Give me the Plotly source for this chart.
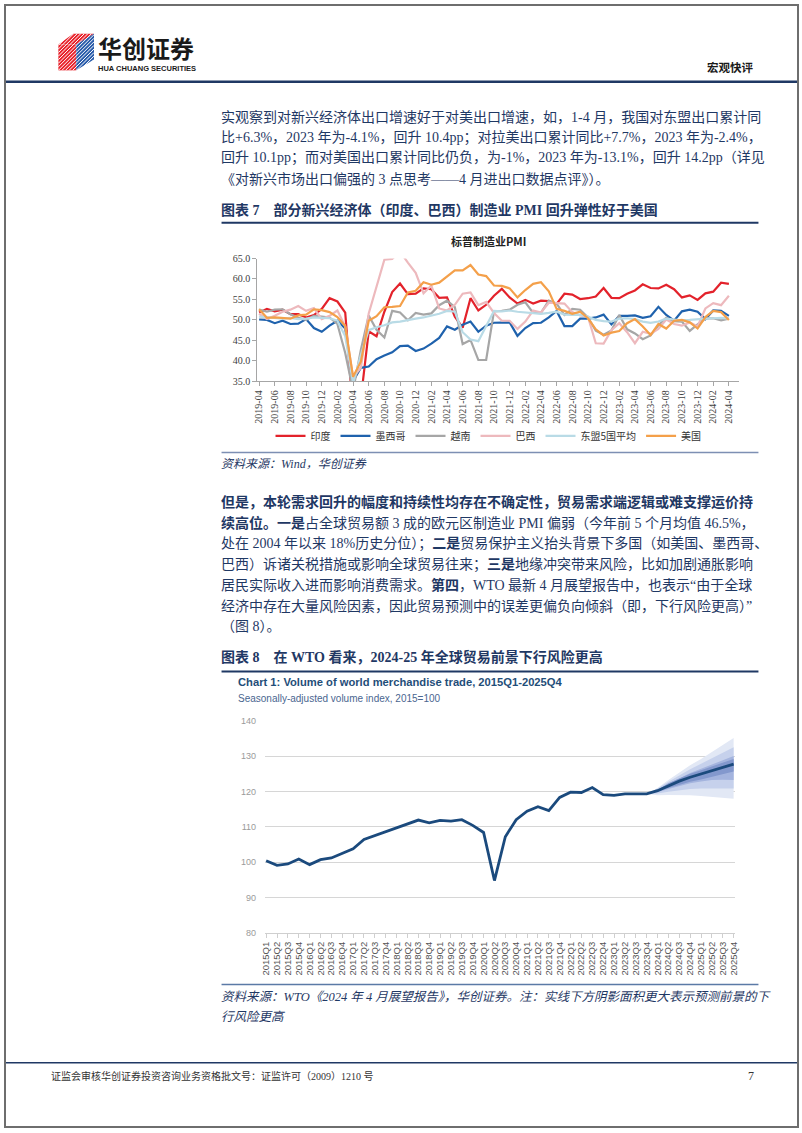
import plotly.graph_objects as go

W, H = 802, 1133
def fx(x): return x / W
def fy(y): return 1 - y / H

NAVY = "#1f3864"
BODY = "Liberation Serif, Noto Sans CJK SC, serif"
CJK = "Noto Sans CJK SC, sans-serif"

# ---------------- Chart 7 data: S&P manufacturing PMI ----------------
all_months = [f"{y}-{m:02d}" for y in range(2019, 2025) for m in range(1, 13)]
months = all_months[3:64]          # 2019-04 .. 2024-04

india = [51.8, 52.7, 52.1, 52.5, 51.4, 51.4, 50.6, 51.2, 52.7,
         55.3, 54.5, 51.8, 27.4, 30.8, 47.2, 46.0, 52.0, 56.8, 58.9, 56.3, 56.4,
         57.7, 57.5, 55.4, 55.5, 50.8, 48.1, 55.3, 52.3, 53.7, 55.9, 57.6, 55.5,
         54.0, 54.9, 54.0, 54.7, 54.6, 53.9, 56.4, 56.2, 55.1, 55.3, 55.7, 57.8,
         55.4, 55.3, 56.4, 57.2, 58.7, 57.8, 57.7, 58.6, 57.5, 55.5, 56.0, 54.9,
         56.5, 56.9, 59.1, 58.8]
mexico = [50.1, 50.0, 49.2, 49.8, 49.0, 49.1, 50.2, 48.0, 47.1,
          48.6, 49.8, 47.9, 35.0, 38.3, 38.6, 40.4, 41.3, 42.1, 43.6, 43.7, 42.4,
          43.0, 44.2, 45.6, 48.4, 47.6, 48.8, 49.6, 47.1, 48.6, 49.3, 49.4, 49.4,
          46.1, 48.0, 49.2, 49.3, 50.6, 52.2, 48.5, 48.5, 50.3, 50.3, 50.6, 51.3,
          48.9, 51.0, 51.0, 51.1, 50.5, 50.9, 53.2, 51.2, 49.8, 52.1, 52.5, 52.0,
          50.2, 52.3, 52.2, 51.0]
vietnam = [52.5, 52.0, 52.5, 52.6, 51.4, 50.5, 50.0, 51.0, 50.8,
           50.6, 49.0, 41.9, 32.7, 42.7, 51.1, 47.6, 45.7, 52.2, 51.8, 49.9, 51.7,
           51.3, 51.6, 53.6, 54.7, 53.1, 44.1, 45.1, 40.2, 40.2, 52.1, 52.2, 52.5,
           53.7, 54.3, 51.7, 51.7, 54.7, 54.0, 51.2, 52.7, 52.5, 50.6, 47.4, 46.4,
           47.4, 51.2, 47.7, 46.7, 45.3, 46.2, 48.7, 50.5, 49.7, 49.6, 47.3, 48.9,
           50.3, 50.4, 49.9, 50.3]
brazil = [51.5, 50.2, 51.0, 52.0, 52.5, 53.4, 52.2, 52.9, 50.2,
          51.0, 52.3, 48.4, 36.0, 38.3, 51.6, 58.2, 64.7, 64.9, 66.7, 64.0, 61.5,
          56.5, 58.4, 52.8, 52.3, 53.7, 56.4, 56.7, 53.6, 54.4, 51.7, 49.8, 49.8,
          47.8, 49.6, 52.3, 51.8, 54.2, 54.1, 54.0, 51.9, 51.1, 50.8, 44.3, 44.2,
          47.5, 49.2, 47.0, 44.3, 47.1, 46.6, 47.8, 50.1, 49.0, 48.6, 49.4, 48.4,
          52.8, 54.1, 53.6, 55.9]
asean5 = [50.8, 50.6, 50.5, 50.3, 50.5, 50.2, 50.3, 50.6, 50.5,
          50.4, 49.8, 46.0, 34.5, 41.5, 47.5, 48.2, 48.7, 49.4, 49.6, 50.0, 50.3,
          50.6, 51.0, 51.5, 52.2, 52.0, 47.0, 45.2, 44.8, 48.5, 52.2, 52.1, 52.3,
          52.0, 51.8, 51.6, 51.5, 51.7, 52.0, 51.3, 51.2, 51.3, 50.8, 50.0, 49.7,
          49.6, 50.3, 50.4, 50.2, 49.6, 49.3, 49.6, 50.3, 50.1, 49.9, 50.0, 50.2,
          50.3, 50.4, 50.5, 50.3]
usa = [52.6, 50.5, 50.6, 50.4, 50.3, 51.1, 51.3, 52.6, 52.4,
       51.9, 50.7, 48.5, 36.1, 39.8, 49.8, 50.9, 53.1, 53.2, 53.4, 56.7, 57.1,
       59.2, 58.6, 59.1, 60.5, 62.1, 62.1, 63.4, 61.1, 60.7, 58.4, 58.3, 57.7,
       55.5, 57.3, 58.8, 59.2, 57.0, 52.7, 52.2, 51.5, 52.0, 50.4, 47.7, 46.2,
       46.9, 47.3, 49.2, 50.2, 48.4, 46.3, 49.0, 47.9, 49.8, 50.0, 49.4, 47.9,
       50.7, 52.2, 51.9, 50.0]

pmi_names = ["印度", "墨西哥", "越南", "巴西", "东盟5国平均", "美国"]
pmi_series = [india, mexico, vietnam, brazil, asean5, usa]
pmi_colors = ["#e3222b", "#1f62ad", "#a6a6a6", "#edb9bd", "#b9dbe6", "#f4a04a"]
pmi_yticks = [35, 40, 45, 50, 55, 60, 65]

# ---------------- Chart 8 data: WTO world merchandise trade ----------------
quarters = [f"{y}Q{q}" for y in range(2015, 2026) for q in range(1, 5)]
trade = [100.4, 99.1, 99.5, 100.9, 99.3, 100.7, 101.2, 102.4,
         103.8, 106.4, 107.5, 108.8, 109.8, 110.9, 111.9, 111.1,
         111.8, 111.6, 112.0, 110.4, 108.4, 94.8, 107.2, 112.0,
         114.4, 115.7, 114.6, 118.3, 119.8, 119.7, 121.1, 119.1,
         118.9, 119.3, 119.2, 119.3,
         120.2, 121.6, 122.9, 124.0, 124.9, 125.8, 126.7, 127.7]
fan_quarters = quarters[35:]       # 2023Q4 .. 2025Q4
fan_outer_lo = [119.3, 118.9, 119.0, 119.0, 118.9, 118.7, 118.4, 118.2, 117.9]
fan_outer_hi = [119.3, 121.0, 123.2, 125.4, 127.4, 129.2, 131.2, 133.2, 135.1]
fan_mid_lo = [119.3, 119.4, 119.9, 120.4, 120.7, 120.8, 120.8, 120.8, 120.8]
fan_mid_hi = [119.3, 120.8, 122.7, 124.6, 126.3, 127.8, 129.4, 130.9, 132.5]
fan_in_lo = [119.3, 119.8, 120.7, 121.6, 122.3, 122.8, 123.2, 123.3, 123.2]
fan_in_hi = [119.3, 120.5, 122.2, 123.8, 125.2, 126.4, 127.6, 128.8, 130.0]
fan_core_lo = [119.3, 120.0, 121.0, 121.9, 122.7, 123.4, 124.2, 124.9, 125.6]
fan_core_hi = [119.3, 120.4, 122.3, 123.7, 125.0, 126.0, 127.1, 128.1, 129.2]
trade_yticks = [80, 90, 100, 110, 120, 130, 140]

fig = go.Figure()

# PMI lines
for name, vals, col in zip(pmi_names, pmi_series, pmi_colors):
    fig.add_trace(go.Scatter(x=months, y=vals, name=name, mode="lines",
                             line=dict(color=col, width=2.2),
                             xaxis="x", yaxis="y", showlegend=True))

# Fan chart
fan_levels = [(fan_outer_lo, fan_outer_hi, "#e2e8f5"),
              (fan_mid_lo, fan_mid_hi, "#c6d1ec"),
              (fan_in_lo, fan_in_hi, "#a4b4de"),
              (fan_core_lo, fan_core_hi, "#8398cd")]
for lo, hi, col in fan_levels:
    fig.add_trace(go.Scatter(x=fan_quarters, y=lo, mode="lines", line=dict(width=0, color=col),
                             xaxis="x2", yaxis="y2", showlegend=False, hoverinfo="skip"))
    fig.add_trace(go.Scatter(x=fan_quarters, y=hi, mode="lines", line=dict(width=0, color=col),
                             fill="tonexty", fillcolor=col,
                             xaxis="x2", yaxis="y2", showlegend=False, hoverinfo="skip"))
fig.add_trace(go.Scatter(x=quarters, y=trade, mode="lines",
                         line=dict(color="#1b4a7d", width=2.8),
                         xaxis="x2", yaxis="y2", showlegend=False))

# ---------------- text ----------------
ann = []
def text(x, y, s, size=14, color=NAVY, family=BODY, xanchor="left", yanchor="middle"):
    ann.append(dict(x=fx(x), y=fy(y), xref="paper", yref="paper", text=s,
                    showarrow=False, xanchor=xanchor, yanchor=yanchor, align="left",
                    font=dict(size=size, color=color, family=family)))

L = 216  # left anchor compensating annotation padding

# header
text(92, 42.5, "<b>华创证券</b>", size=24, color="#1a1a1a", family=CJK)
text(92, 64.5, "<b>HUA CHUANG SECURITIES</b>", size=7.5, color="#1a1a1a",
     family="Liberation Sans, sans-serif")
text(760, 63, "<b>宏观快评</b>", size=11.5, color="#1a1a1a", family=CJK, xanchor="right")

para1 = [
    "实观察到对新兴经济体出口增速好于对美出口增速，如，1-4 月，我国对东盟出口累计同",
    "比+6.3%，2023 年为-4.1%，回升 10.4pp；对拉美出口累计同比+7.7%，2023 年为-2.4%，",
    "回升 10.1pp；而对美国出口累计同比仍负，为-1%，2023 年为-13.1%，回升 14.2pp（详见",
    "《对新兴市场出口偏强的 3 点思考——4 月进出口数据点评》）。",
]
for i, line in enumerate(para1):
    text(L, 113.5 + 20.6 * i, line)

text(L, 207, "<b>图表 7　部分新兴经济体（印度、巴西）制造业 PMI 回升弹性好于美国</b>")
text(489, 238, "<b>标普制造业PMI</b>", size=11, color="#222", family=CJK, xanchor="center")
text(L, 464, "<i>资料来源：Wind，华创证券</i>", size=12)

para2 = [
    "<b>但是，本轮需求回升的幅度和持续性均存在不确定性，贸易需求端逻辑或难支撑运价持</b>",
    "<b>续高位。一是</b>占全球贸易额 3 成的欧元区制造业 PMI 偏弱（今年前 5 个月均值 46.5%，",
    "处在 2004 年以来 18%历史分位）；<b>二是</b>贸易保护主义抬头背景下多国（如美国、墨西哥、",
    "巴西）诉诸关税措施或影响全球贸易往来；<b>三是</b>地缘冲突带来风险，比如加剧通胀影响",
    "居民实际收入进而影响消费需求。<b>第四</b>，WTO 最新 4 月展望报告中，也表示“由于全球",
    "经济中存在大量风险因素，因此贸易预测中的误差更偏负向倾斜（即，下行风险更高）”",
    "（图 8）。",
]
for i, line in enumerate(para2):
    text(L, 502 + 21.0 * i, line)

text(L, 658, "<b>图表 8　在 WTO 看来，2024-25 年全球贸易前景下行风险更高</b>")
text(234, 684, "<b>Chart 1: Volume of world merchandise trade, 2015Q1-2025Q4</b>", size=11.2,
     color="#1f4e79", family="Liberation Sans, sans-serif")
text(234, 700, "Seasonally-adjusted volume index, 2015=100", size=10, color="#4a6690",
     family="Liberation Sans, sans-serif")
text(L, 1002, "<i>资料来源：WTO《2024 年 4 月展望报告》，华创证券。注：实线下方阴影面积更大表示预测前景的下</i>", size=12.5)
text(L, 1022, "<i>行风险更高</i>", size=12.5)

text(44, 1081, "证监会审核华创证券投资咨询业务资格批文号：证监许可（2009）1210 号", size=10,
     color="#333", family=BODY)
text(760, 1081, "7", size=12, color="#333", family=BODY, xanchor="right")

# ---------------- shapes ----------------
shapes = []
def hline(y, x0, x1, color, width):
    shapes.append(dict(type="line", xref="paper", yref="paper", x0=fx(x0), x1=fx(x1),
                       y0=fy(y), y1=fy(y), line=dict(color=color, width=width)))

hline(77.5, 0, 802, NAVY, 2.5)
hline(220, 219, 762, NAVY, 2)
hline(452, 219, 762, "#7d8fb3", 1.5)
hline(673, 219, 762, NAVY, 2)
hline(989, 219, 762, "#5b7aa6", 1.5)
hline(1068, 0, 802, NAVY, 1.5)

def path(points):
    return "M" + " L".join(f"{fx(x):.5f},{fy(y):.5f}" for x, y in points) + " Z"

# logo cube
shapes.append(dict(type="path", xref="paper", yref="paper",
                   path=path([(54, 40), (69, 29), (90, 29), (72, 40)]),
                   fillcolor="#e8242d", line=dict(width=0)))
shapes.append(dict(type="path", xref="paper", yref="paper",
                   path=path([(54, 40), (72, 40), (72, 66), (54, 66)]),
                   fillcolor="#e8242d", line=dict(width=0)))
shapes.append(dict(type="path", xref="paper", yref="paper",
                   path=path([(72, 40), (90, 29), (90, 55), (72, 66)]),
                   fillcolor="#2a5caa", line=dict(width=0)))
a = 18.0
while a < 92:
    xs = max(a, 54.0); xe = min(a + 37.0, 90.0)
    if xe > xs:
        shapes.append(dict(type="line", xref="paper", yref="paper",
                           x0=fx(xs), y0=fy(66 - (xs - a)), x1=fx(xe), y1=fy(66 - (xe - a)),
                           line=dict(color="white", width=1)))
    a += 3.6

# page frame
shapes.append(dict(type="rect", xref="paper", yref="paper", x0=0, y0=0, x1=1, y1=1,
                   line=dict(color="#6e6e6e", width=2)))

fig.update_layout(
    width=W, height=H, autosize=False,
    margin=dict(l=0, r=0, t=0, b=0, pad=0),
    paper_bgcolor="white", plot_bgcolor="white",
    annotations=ann, shapes=shapes,
    showlegend=True,
    legend=dict(orientation="h", x=fx(489), xanchor="center", y=fy(435), yanchor="middle",
                traceorder="normal",
                font=dict(family=CJK, size=10, color="#333"), itemwidth=30,
                bgcolor="rgba(0,0,0,0)"),
    xaxis=dict(domain=[fx(255), fx(742)], anchor="y", type="category",
               categoryorder="array", categoryarray=months,
               range=[-0.25, 61.25], tickmode="array",
               tickvals=months[::2], ticktext=months[::2], tickangle=-90,
               tickfont=dict(family="Liberation Serif, serif", size=10, color="#404040"),
               showgrid=False, zeroline=False, showline=True, linecolor="#a6a6a6",
               ticks="outside", ticklen=4, tickcolor="#a6a6a6"),
    yaxis=dict(domain=[fy(380), fy(256)], anchor="x", range=[35, 65],
               tickvals=pmi_yticks, tickformat=".1f",
               tickfont=dict(family="Liberation Serif, serif", size=10, color="#404040"),
               showgrid=False, zeroline=False, showline=True, linecolor="#a6a6a6",
               ticks="outside", ticklen=4, tickcolor="#a6a6a6"),
    xaxis2=dict(domain=[fx(263), fx(738)], anchor="y2", type="category",
                categoryorder="array", categoryarray=quarters,
                range=[-0.1, 43.1], tickmode="array", tickvals=quarters, ticktext=quarters,
                tickangle=-90,
                tickfont=dict(family="Liberation Sans, sans-serif", size=9.5, color="#555"),
                showgrid=False, zeroline=False, showline=True, linecolor="#cfcfcf",
                ticks="outside", ticklen=4, tickcolor="#cfcfcf"),
    yaxis2=dict(domain=[fy(937), fy(722.7)], anchor="x2", range=[80, 140],
                tickvals=trade_yticks,
                tickfont=dict(family="Liberation Sans, sans-serif", size=9, color="#9a9a9a"),
                showgrid=True, gridcolor="#d6d6d6", gridwidth=1, zeroline=False,
                showline=False, ticklabelstandoff=8),
)

fig.write_html("out.html")
